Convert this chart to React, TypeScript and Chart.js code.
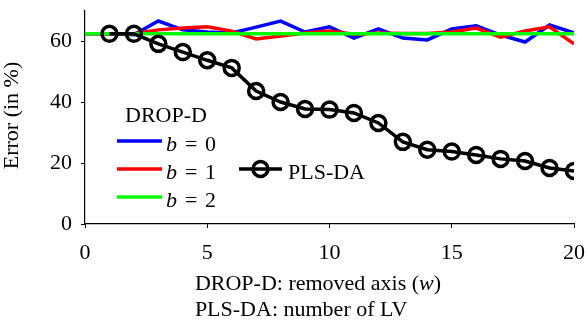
import React, { useEffect, useRef } from "react";
import { Chart, registerables } from "chart.js";

Chart.register(...registerables);

// ---- data ----
const dropX = [0, 1, 2, 3, 4, 5, 6, 7, 8, 9, 10, 11, 12, 13, 14, 15, 16, 17, 18, 19, 20];
const b0Values = [62.5, 62.5, 62.2, 66.7, 63.8, 63.1, 62.8, 64.7, 66.7, 63.1, 64.8, 61.1, 64.1, 61.1, 60.5, 64.1, 65.1, 62.1, 59.8, 65.4, 62.8];
const b1Values = [62.5, 62.5, 62.5, 63.8, 64.4, 64.8, 63.4, 60.8, 61.8, 62.8, 63.4, 62.4, 62.8, 62.6, 62.6, 63.1, 64.4, 61.4, 63.4, 64.8, 59.2];
const b2Values = [62.5, 62.5, 62.5, 62.5, 62.5, 62.5, 62.5, 62.5, 62.5, 62.5, 62.5, 62.5, 62.5, 62.5, 62.5, 62.5, 62.5, 62.5, 62.5, 62.5, 62.5];
const plsX = [1, 2, 3, 4, 5, 6, 7, 8, 9, 10, 11, 12, 13, 14, 15, 16, 17, 18, 19, 20];
const plsValues = [62.5, 62.5, 59.2, 56.5, 53.8, 51.3, 43.7, 40.1, 37.8, 37.6, 36.5, 33.2, 27.0, 24.4, 23.8, 22.7, 21.4, 20.7, 18.4, 17.4];
const xTicks = [0, 5, 10, 15, 20];
const yTicks = [0, 20, 40, 60];

const yTitle = "Error (in %)";
const xTitle1a = "DROP-D: removed axis (";
const xTitle1b = "w";
const xTitle1c = ")";
const xTitle2 = "PLS-DA: number of LV";
const legendTitle = "DROP-D";
const legendVar = "b";
const legendLabels = ["0", "1", "2"];
const plsLabel = "PLS-DA";

const FONT = '"Liberation Serif", "Times New Roman", serif';
const BLUE = "#0000ff";
const RED = "#ff0000";
const GREEN = "#00ff00";

const pts = (xs: number[], ys: number[]) => xs.map((x, i) => ({ x, y: ys[i] }));

const overlayPlugin = {
  id: "overlay",
  afterDraw(chart: any) {
    const ctx = chart.ctx as CanvasRenderingContext2D;
    const { top, bottom } = chart.chartArea;
    ctx.save();
    ctx.fillStyle = "#000";

    // y-axis title
    ctx.save();
    ctx.font = `22px ${FONT}`;
    ctx.translate(18, (top + bottom) / 2 - 2);
    ctx.rotate(-Math.PI / 2);
    ctx.textAlign = "center";
    ctx.textBaseline = "alphabetic";
    ctx.fillText(yTitle, 0, 0);
    ctx.restore();

    // x-axis title (two left-aligned lines)
    ctx.textBaseline = "alphabetic";
    ctx.textAlign = "left";
    const normal = `22px ${FONT}`;
    const italic = `italic 22px ${FONT}`;
    ctx.font = normal;
    const wa = ctx.measureText(xTitle1a).width;
    const wc = ctx.measureText(xTitle1c).width;
    ctx.font = italic;
    const wb = ctx.measureText(xTitle1b).width;
    const w1 = wa + wb + wc;
    const x0 = 318 - w1 / 2;
    ctx.font = normal;
    ctx.fillText(xTitle1a, x0, 290);
    ctx.font = italic;
    ctx.fillText(xTitle1b, x0 + wa, 290);
    ctx.font = normal;
    ctx.fillText(xTitle1c, x0 + wa + wb, 290);
    ctx.fillText(xTitle2, x0, 316);

    // legend: DROP-D block
    ctx.font = normal;
    ctx.textAlign = "center";
    ctx.fillText(legendTitle, 166, 122);
    const colors = [BLUE, RED, GREEN];
    ctx.lineCap = "butt";
    for (let i = 0; i < 3; i++) {
      const ly = 141 + i * 28;
      ctx.strokeStyle = colors[i];
      ctx.lineWidth = 3.5;
      ctx.beginPath();
      ctx.moveTo(117, ly);
      ctx.lineTo(162, ly);
      ctx.stroke();
      ctx.textAlign = "left";
      ctx.font = italic;
      ctx.fillText(legendVar, 166, ly + 10);
      ctx.font = normal;
      ctx.fillText("=", 185, ly + 10);
      ctx.fillText(legendLabels[i], 205, ly + 10);
    }

    // legend: PLS-DA
    const py = 169;
    ctx.strokeStyle = "#000";
    ctx.lineWidth = 3.5;
    ctx.beginPath();
    ctx.moveTo(239, py);
    ctx.lineTo(282, py);
    ctx.stroke();
    ctx.beginPath();
    ctx.arc(260.5, py, 7.5, 0, Math.PI * 2);
    ctx.stroke();
    ctx.font = normal;
    ctx.textAlign = "left";
    ctx.fillText(plsLabel, 288, py + 10);

    ctx.restore();
  },
};

export default function App() {
  const canvasRef = useRef<HTMLCanvasElement | null>(null);

  useEffect(() => {
    const canvas = canvasRef.current;
    if (!canvas) return;
    const chart = new Chart(canvas, {
      type: "line",
      data: {
        datasets: [
          {
            label: plsLabel,
            data: pts(plsX, plsValues),
            borderColor: "#000",
            backgroundColor: "rgba(0,0,0,0)",
            borderWidth: 3.5,
            pointRadius: 7.5,
            pointBorderWidth: 3.5,
            pointBorderColor: "#000",
            pointBackgroundColor: "rgba(0,0,0,0)",
            tension: 0,
            fill: false,
          },
          {
            label: "b = 2",
            data: pts(dropX, b2Values),
            borderColor: GREEN,
            borderWidth: 3.5,
            pointRadius: 0,
            tension: 0,
            fill: false,
          },
          {
            label: "b = 1",
            data: pts(dropX, b1Values),
            borderColor: RED,
            borderWidth: 3.5,
            pointRadius: 0,
            tension: 0,
            fill: false,
          },
          {
            label: "b = 0",
            data: pts(dropX, b0Values),
            borderColor: BLUE,
            borderWidth: 3.5,
            pointRadius: 0,
            tension: 0,
            fill: false,
          },
        ],
      },
      options: {
        animation: false,
        responsive: false,
        maintainAspectRatio: false,
        layout: { padding: { top: 11, right: 13, left: 0, bottom: 0 } },
        plugins: {
          legend: { display: false },
          tooltip: { enabled: false },
          title: { display: false },
        },
        scales: {
          x: {
            type: "linear",
            min: 0,
            max: 20,
            afterBuildTicks: (s: any) => {
              s.ticks = xTicks.map((v) => ({ value: v }));
            },
            afterFit: (s: any) => {
              s.height = 96;
              s.paddingLeft = 0;
              s.paddingRight = 0;
            },
            grid: {
              display: true,
              drawOnChartArea: false,
              drawTicks: true,
              tickLength: 4,
              color: "#000",
              lineWidth: 1,
            },
            border: { display: true, color: "#000", width: 1.2 },
            ticks: {
              color: "#000",
              font: { family: FONT, size: 22 },
              padding: 12,
              maxRotation: 0,
              autoSkip: false,
            },
          },
          y: {
            type: "linear",
            min: 0,
            max: 70,
            afterBuildTicks: (s: any) => {
              s.ticks = yTicks.map((v) => ({ value: v }));
            },
            afterFit: (s: any) => {
              s.width = 85;
              s.paddingTop = 0;
              s.paddingBottom = 0;
            },
            grid: {
              display: true,
              drawOnChartArea: false,
              drawTicks: true,
              tickLength: 4,
              color: "#000",
              lineWidth: 1,
            },
            border: { display: true, color: "#000", width: 1.2 },
            ticks: {
              color: "#000",
              font: { family: FONT, size: 22 },
              padding: 9,
              autoSkip: false,
            },
          },
        },
      },
      plugins: [overlayPlugin],
    } as any);
    return () => chart.destroy();
  }, []);

  return (
    <div style={{ position: "fixed", left: 0, top: 0, width: 587, height: 320, background: "#fff" }}>
      <canvas ref={canvasRef} width={587} height={320} style={{ width: 587, height: 320, display: "block" }} />
    </div>
  );
}
